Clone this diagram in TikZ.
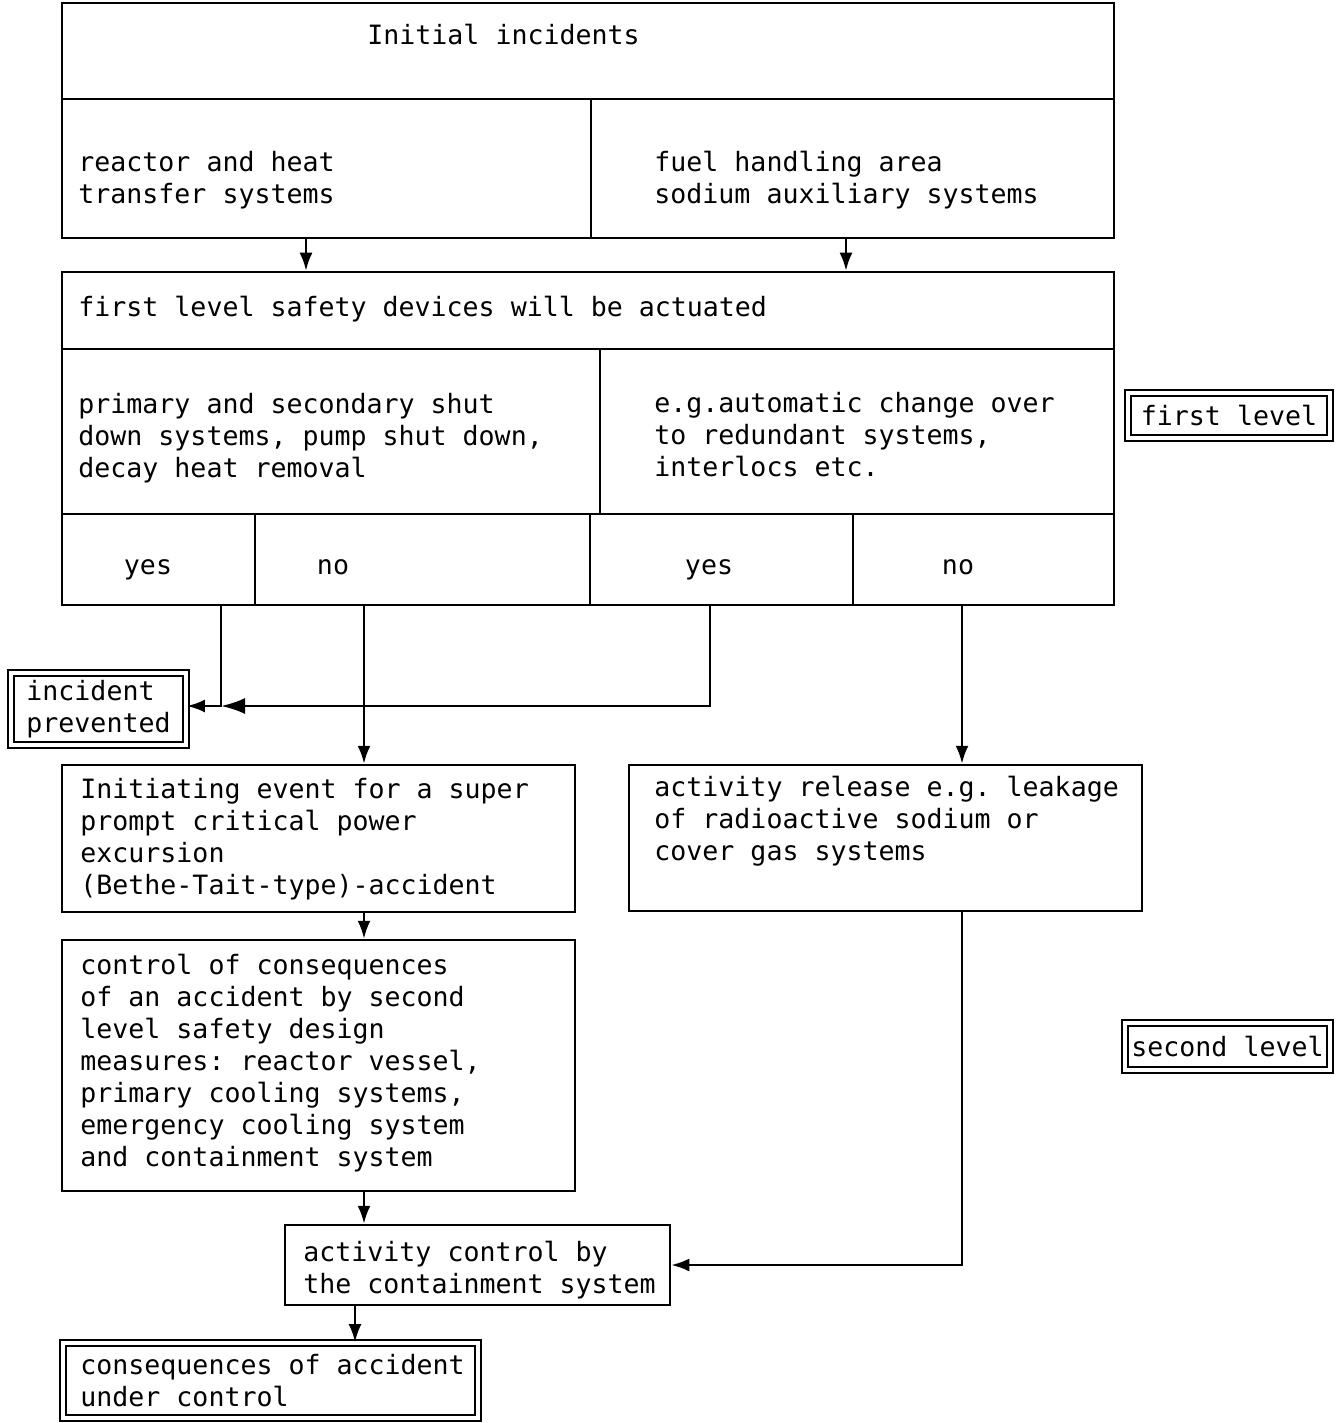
\documentclass[tikz,border=0pt]{standalone}
\usepackage{fontspec}
\setmainfont{DejaVu Sans Mono}
\usepackage{tikz}
\usetikzlibrary{fit,arrows.meta}
\frenchspacing

\begin{document}
\begin{tikzpicture}[x=0.5pt, y=-0.5pt,
    frame/.style={draw, line width=1.25pt, inner sep=0pt},
    dframe/.style={draw, double, double distance=2pt, line width=0.9pt, inner sep=0pt},
    txt/.style={inner sep=0pt, align=left, font=\fontsize{13.3}{16}\selectfont},
    link/.style={line width=1.25pt},
    arr/.style={link, -{Latex[length=9pt,width=6.5pt]}},
    bigarr/.style={link, -{Latex[length=12pt,width=8pt]}}]
    \useasboundingbox (0,0) rectangle (1343,1423);

    % Initial incidents (anchor: baseline of last line)
    \node[frame, fit={(62,3) (1114,99)}] (init) {};
    \node[frame, fit={(62,99) (591,238)}] (reactor) {};
    \node[frame, fit={(591,99) (1114,238)}] (fuel) {};
    \node[txt, anchor=base west] (inittxt) at (367,45) {Initial incidents};
    \node[txt, anchor=base west] (reactortxt) at (78,204) {reactor and heat\\transfer systems};
    \node[txt, anchor=base west] (fueltxt) at (654,204) {fuel handling area\\sodium auxiliary systems};

    % First level safety devices
    \node[frame, fit={(62,272) (1114,349)}] (first) {};
    \node[frame, fit={(62,349) (600,514)}] (prim) {};
    \node[frame, fit={(600,349) (1114,514)}] (auto) {};
    \node[frame, fit={(62,514) (255,605)}] (yesA) {};
    \node[frame, fit={(255,514) (590,605)}] (noA) {};
    \node[frame, fit={(590,514) (853,605)}] (yesB) {};
    \node[frame, fit={(853,514) (1114,605)}] (noB) {};
    \node[txt, anchor=base west] (firsttxt) at (78,316) {first level safety devices will be actuated};
    \node[txt, anchor=base west] (primtxt) at (78,477) {primary and secondary shut\\down systems, pump shut down,\\decay heat removal};
    \node[txt, anchor=base west] (autotxt) at (654,476) {e.g.automatic change over\\to redundant systems,\\interlocs etc.};
    \node[txt, anchor=base] (yesAtxt) at (148,574) {yes};
    \node[txt, anchor=base] (noAtxt) at (333,574) {no};
    \node[txt, anchor=base] (yesBtxt) at (709,574) {yes};
    \node[txt, anchor=base] (noBtxt) at (958,574) {no};

    % Level labels
    \node[dframe, fit={(1128,393) (1330,438)}] (lvlone) {};
    \node[txt] (lvlonetxt) at (lvlone) {first level};
    \node[dframe, fit={(1125,1023) (1330,1070)}] (lvltwo) {};
    \node[txt] (lvltwotxt) at (lvltwo) {second level};

    % Incident prevented
    \node[dframe, fit={(11,673) (186,745)}] (prev) {};
    \node[txt] (prevtxt) at (prev) {incident\\prevented};

    % Accident path
    \node[frame, fit={(62,765) (575,912)}] (event) {};
    \node[txt, anchor=base west] (eventtxt) at (80,894) {Initiating event for a super\\prompt critical power\\excursion\\(Bethe-Tait-type)-accident};
    \node[frame, fit={(62,940) (575,1191)}] (control) {};
    \node[txt, anchor=base west] (controltxt) at (80,1166) {control of consequences\\of an accident by second\\level safety design\\measures: reactor vessel,\\primary cooling systems,\\emergency cooling system\\and containment system};
    \node[frame, fit={(629,765) (1142,911)}] (release) {};
    \node[txt, anchor=base west] (releasetxt) at (654,860) {activity release e.g. leakage\\of radioactive sodium or\\cover gas systems};
    \node[frame, fit={(285,1225) (670,1305)}] (contain) {};
    \node[txt, anchor=base west] (containtxt) at (303,1293) {activity control by\\the containment system};
    \node[dframe, fit={(63,1343) (478,1418)}] (underctrl) {};
    \node[txt, anchor=base west] (underctrltxt) at (80,1406) {consequences of accident\\under control};

    % Connectors
    \coordinate (xa) at (306,0);
    \coordinate (xb) at (846,0);
    \coordinate (ya) at (221,0);
    \coordinate (yb) at (710,0);
    \coordinate (na) at (364,0);
    \coordinate (nb) at (962,0);
    \coordinate (xc) at (355,0);
    \coordinate (hz) at (0,706);
    \draw[arr] (reactor.south -| xa) -- (first.north -| xa);
    \draw[arr] (fuel.south -| xb) -- (first.north -| xb);
    \draw[arr] (yesA.south -| ya) |- (prev.east |- hz);
    \draw[bigarr] (yesB.south -| yb) |- (ya |- hz);
    \draw[arr] (noA.south -| na) -- (event.north -| na);
    \draw[arr] (noB.south -| nb) -- (release.north -| nb);
    \draw[arr] (event.south -| na) -- (control.north -| na);
    \draw[arr] (control.south -| na) -- (contain.north -| na);
    \draw[arr] (release.south -| nb) |- (contain.east);
    \draw[arr] (contain.south -| xc) -- (underctrl.north -| xc);

\end{tikzpicture}
\end{document}
